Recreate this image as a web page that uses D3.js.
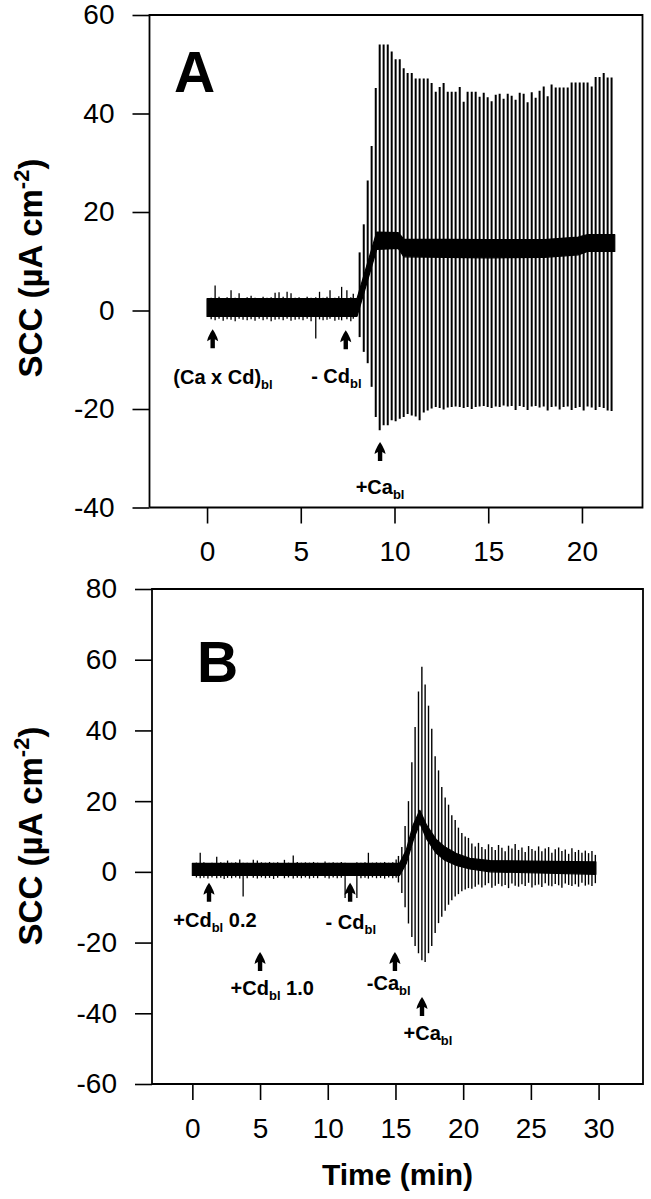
<!DOCTYPE html>
<html>
<head>
<meta charset="utf-8">
<script src="https://cdnjs.cloudflare.com/ajax/libs/d3/7.8.5/d3.min.js"></script>
<style>
  body { margin: 0; background: #fff; }
  svg { display: block; }
</style>
</head>
<body>
<svg id="svg1" width="651" height="1199"></svg>
<script>
// short-circuit current traces, panel A and panel B

var FONT = '"Liberation Sans", Arial, Helvetica, sans-serif';

// ---------- panel A data ----------
var xTicksA = [0, 5, 10, 15, 20];
var yTicksA = [-40, -20, 0, 20, 40, 60];

// pulses: [time (min), top, bottom]
var pulsesA = [
  [8.14, 11.8, -5.4], [8.36, 17.5, -8.4], [8.57, 26.4, -10.7], [8.78, 33.4, -15.5], [9.00, 45.2, -21.6],
  [9.21, 54, -24.3], [9.42, 54, -23.3], [9.64, 54, -23.3], [9.85, 52.6, -22.3], [10.06, 51, -22.5],
  [10.28, 51, -22], [10.49, 49.2, -21.6], [10.70, 48.2, -21], [10.92, 48.2, -21.3], [11.13, 47.1, -21.5],
  [11.34, 47.1, -22.3], [11.56, 47.1, -20.7], [11.77, 47.1, -20.3], [11.98, 46.2, -19.9], [12.20, 44.4, -19.6],
  [12.41, 45.4, -19.8], [12.62, 46.2, -20.1], [12.84, 44.4, -19.7], [13.05, 44.4, -19.6], [13.26, 44.4, -19.5],
  [13.48, 45.4, -19.6], [13.69, 42.4, -19.8], [13.90, 44.4, -19.6], [14.12, 44.4, -20.0], [14.33, 44.4, -19.6],
  [14.54, 43.4, -19.5], [14.76, 44.2, -19.4], [14.97, 43.3, -19.6], [15.18, 42.5, -19.8], [15.40, 43.8, -19.5],
  [15.61, 44.0, -19.6], [15.82, 43.0, -19.3], [16.04, 44.0, -19.5], [16.25, 43.6, -19.4], [16.46, 42.8, -20.2],
  [16.68, 44.2, -19.4], [16.89, 44.0, -19.6], [17.10, 42.3, -20.2], [17.32, 44.3, -19.5], [17.53, 43.2, -19.4],
  [17.74, 44.6, -19.7], [17.96, 45.5, -19.5], [18.17, 43.5, -20.3], [18.38, 45.9, -19.6], [18.60, 45.3, -19.5],
  [18.81, 45.3, -20.1], [19.02, 45.3, -19.6], [19.24, 45.3, -19.5], [19.45, 46.3, -20.2], [19.66, 46.3, -19.8],
  [19.88, 46.3, -19.6], [20.09, 46.3, -20.3], [20.30, 46.3, -19.5], [20.52, 45.5, -19.7], [20.73, 47.4, -20.2],
  [20.94, 47.4, -19.6], [21.16, 48.2, -19.8], [21.37, 47.3, -20.3], [21.58, 47.3, -20.4]
];

// small ticks riding on the baseline: [time, top, bottom]
var noiseA = [
  [0.22, 2.6, -1.8], [0.43, 5.1, -2.0], [0.64, 2.8, -1.7], [0.86, 2.5, -2.1], [1.07, 2.7, -1.8],
  [1.28, 4.1, -1.9], [1.50, 2.6, -2.2], [1.71, 3.5, -1.7], [1.92, 2.5, -1.9], [2.14, 2.7, -2.0],
  [2.35, 3.0, -1.8], [2.56, 2.6, -2.1], [2.78, 2.5, -1.7], [2.99, 2.8, -2.0], [3.20, 2.6, -1.8],
  [3.42, 2.7, -2.2], [3.63, 3.6, -1.9], [3.84, 3.7, -1.8], [4.06, 2.8, -2.0], [4.27, 3.8, -1.7],
  [4.48, 3.5, -2.1], [4.70, 2.6, -1.9], [4.91, 2.7, -1.8], [5.12, 2.5, -2.0], [5.34, 2.8, -1.7],
  [5.55, 2.6, -2.2], [5.80, 2.7, -5.7], [6.00, 3.8, -1.8], [6.19, 2.6, -2.0], [6.40, 2.8, -1.9],
  [6.56, 4.1, -1.7], [6.82, 2.6, -2.1], [7.03, 2.9, -1.9], [7.18, 4.8, -2.0], [7.46, 4.1, -1.8],
  [7.67, 2.7, -2.2], [7.80, 3.4, -1.7]
];

// running mean trace band: [time, low, high]
var bandA = [
  [0, -1.2, 2.4], [8.0, -1.2, 2.4], [9.05, 12.4, 15.9], [10.2, 12.6, 15.8], [10.5, 10.9, 14.5],
  [15.0, 10.7, 14.4], [18.0, 10.8, 14.4], [19.8, 11.3, 14.9], [20.3, 12.0, 15.4], [21.75, 12.0, 15.4]
];

// annotations: text, subscript, trailing text
var noteTextA = [['(Ca x Cd)', 'bl', ''], ['- Cd', 'bl', ''], ['+Ca', 'bl', '']];
var noteTimeA = [0.3, 7.4, 9.23];
var noteTipA = [-3.8, -4.0, -26.7];
var noteLabelA = [[0.85, -13.6], [6.9, -13.3], [9.23, -35.8]];

// ---------- panel B data ----------
var xTicksB = [0, 5, 10, 15, 20, 25, 30];
var yTicksB = [-60, -40, -20, 0, 20, 40, 60, 80];

var pulsesB = [
  [15.22, 4.5, -3], [15.47, 7, -6], [15.71, 13, -10], [15.96, 20, -14.6], [16.21, 31, -18.4],
  [16.45, 41, -21], [16.70, 51, -23], [16.95, 58, -25], [17.19, 53, -25.5], [17.44, 47, -23],
  [17.68, 40.5, -21], [17.93, 32.7, -17.3], [18.18, 28.7, -14.5], [18.42, 24, -12.7], [18.67, 21, -11],
  [18.92, 19, -9.3], [19.16, 16, -8], [19.41, 14.7, -7], [19.65, 12.5, -6.3], [19.90, 11, -5.5],
  [20.15, 10, -5], [20.39, 9.6, -4.6], [20.64, 8, -4.8], [20.89, 7.2, -4.2], [21.13, 8.2, -3.6],
  [21.38, 7.0, -4.4], [21.63, 6.4, -3.8], [21.87, 7.8, -3.2], [22.12, 7.0, -4.5], [22.37, 6.2, -3.9],
  [22.61, 7.6, -3.4], [22.86, 6.8, -4.1], [23.10, 5.8, -3.7], [23.35, 7.4, -4.6], [23.60, 6.6, -3.3],
  [23.84, 7.9, -3.9], [24.09, 6.2, -4.2], [24.34, 6.9, -3.5], [24.58, 5.6, -4.0], [24.83, 7.3, -3.1],
  [25.08, 6.5, -4.4], [25.32, 6.0, -3.8], [25.57, 7.2, -3.6], [25.81, 5.8, -4.3], [26.06, 6.6, -3.2],
  [26.31, 7.0, -3.9], [26.55, 5.4, -4.1], [26.80, 6.4, -3.4], [27.05, 6.9, -3.8], [27.29, 5.9, -4.5],
  [27.54, 6.3, -3.3], [27.79, 5.1, -3.7], [28.03, 6.7, -4.0], [28.28, 5.6, -3.5], [28.52, 6.2, -4.2],
  [28.77, 5.4, -3.1], [29.02, 6.0, -3.9], [29.26, 5.3, -3.6], [29.51, 5.9, -4.0], [29.76, 4.8, -3.2]
];

var noiseB = [
  [0.30, 2.6, -1.6], [0.58, 5.4, -1.8], [0.85, 2.7, -1.7], [1.15, 2.5, -1.9], [1.45, 2.6, -1.6],
  [1.80, 4.3, -1.8], [2.10, 2.7, -1.7], [2.35, 2.6, -2.0], [2.60, 3.2, -1.7], [2.90, 2.6, -1.8],
  [3.20, 2.7, -1.6], [3.50, 3.5, -1.9], [3.75, 2.6, -7.0], [4.05, 2.6, -1.8], [4.50, 3.4, -1.7],
  [4.80, 3.2, -1.9], [5.10, 2.7, -1.6], [5.40, 2.6, -1.8], [5.70, 2.8, -1.7], [6.00, 2.6, -2.0],
  [6.30, 2.7, -1.7], [6.80, 3.4, -1.8], [7.10, 2.6, -1.6], [7.45, 4.6, -1.9], [7.75, 2.8, -1.7],
  [8.05, 2.6, -1.8], [8.35, 2.7, -1.6], [8.65, 2.6, -1.9], [8.95, 2.8, -1.7], [9.25, 2.6, -1.8],
  [9.80, 2.9, -1.7], [10.10, 2.6, -1.9], [10.40, 2.7, -1.6], [10.70, 2.6, -1.8], [11.00, 2.8, -1.7],
  [11.28, 2.6, -7.4], [12.15, 2.7, -7.4], [12.45, 2.6, -1.8], [12.75, 2.7, -1.7], [13.00, 5.4, -1.9],
  [13.30, 2.6, -1.6], [13.60, 2.7, -1.8], [13.90, 2.6, -1.7], [14.20, 2.8, -1.9], [14.50, 2.6, -1.6],
  [14.80, 2.7, -1.8], [15.05, 3.5, -1.7]
];

var bandB = [
  [0, -1.0, 2.4], [15.3, -1.0, 2.4], [15.8, 2.4, 6.2], [16.3, 8.8, 13.2], [16.8, 13.8, 17.4],
  [17.3, 9.3, 13.2], [18.0, 5.3, 9.2], [18.6, 3.4, 7.2], [19.5, 1.8, 5.2], [20.5, 0.8, 3.8],
  [22.0, 0.0, 3.2], [29.8, -0.7, 2.8]
];

var noteTextB = [['+Cd', 'bl', ' 0.2'], ['+Cd', 'bl', ' 1.0'], ['- Cd', 'bl', ''], ['-Ca', 'bl', ''], ['+Ca', 'bl', '']];
var noteTimeB = [1.23, 5.0, 11.65, 14.96, 16.96];
var noteTipB = [-3.1, -22.7, -3.1, -22.7, -35.4];
var noteLabelB = [[1.67, -13.6], [5.9, -32.9], [11.7, -14.2], [14.5, -31.4], [17.4, -45.6]];


// selecting svg canvas
var svg1 = d3.select('#svg1');

svg1.append('rect').attr('width', 651).attr('height', 1199).attr('fill', '#fff');

// frame of each panel (pixels)
var frameA = {left: 149.5, right: 642.5, top: 15, bottom: 507.5};
var frameB = {left: 152, right: 643, top: 589, bottom: 1084};

var xScaleA = d3.scaleLinear().domain([-3.07, 23.23]).range([frameA.left, frameA.right]);
var yScaleA = d3.scaleLinear().domain([-40, 60]).range([frameA.bottom, frameA.top]);
var xScaleB = d3.scaleLinear().domain([-2.98, 33.28]).range([frameB.left, frameB.right]);
var yScaleB = d3.scaleLinear().domain([-60, 80]).range([frameB.bottom, frameB.top]);

drawPanel({
  frame: frameA, x: xScaleA, y: yScaleA, xTicks: xTicksA, yTicks: yTicksA,
  pulses: pulsesA, noise: noiseA, band: bandA, pulseWidth: 2,
  noteText: noteTextA, noteTime: noteTimeA, noteTip: noteTipA, noteLabel: noteLabelA,
  letter: 'A', letterPos: [174, 92], titleCenter: 268
});

drawPanel({
  frame: frameB, x: xScaleB, y: yScaleB, xTicks: xTicksB, yTicks: yTicksB,
  pulses: pulsesB, noise: noiseB, band: bandB, pulseWidth: 1.4,
  noteText: noteTextB, noteTime: noteTimeB, noteTip: noteTipB, noteLabel: noteLabelB,
  letter: 'B', letterPos: [197, 682], titleCenter: 836
});

// x axis title only under panel B
svg1.append('text')
  .attr('x', (frameB.left + frameB.right) / 2)
  .attr('y', 1185)
  .attr('text-anchor', 'middle')
  .attr('font-family', FONT)
  .attr('font-weight', 'bold')
  .attr('font-size', 30)
  .text('Time (min)');


function drawPanel(p) {
  var x = p.x, y = p.y, f = p.frame;

  // stimulation pulses
  svg1.append('g')
    .selectAll('line')
    .data(p.pulses)
    .enter()
    .append('line')
    .attr('x1', function(d) { return x(d[0]); })
    .attr('x2', function(d) { return x(d[0]); })
    .attr('y1', function(d) { return y(d[1]); })
    .attr('y2', function(d) { return y(d[2]); })
    .attr('stroke', '#000')
    .attr('stroke-width', p.pulseWidth);

  // baseline ticks
  svg1.append('g')
    .selectAll('line')
    .data(p.noise)
    .enter()
    .append('line')
    .attr('x1', function(d) { return x(d[0]); })
    .attr('x2', function(d) { return x(d[0]); })
    .attr('y1', function(d) { return y(d[1]); })
    .attr('y2', function(d) { return y(d[2]); })
    .attr('stroke', '#000')
    .attr('stroke-width', 1.3);

  // thick mean trace
  var area = d3.area()
    .x(function(d) { return x(d[0]); })
    .y0(function(d) { return y(d[1]); })
    .y1(function(d) { return y(d[2]); });

  svg1.append('path')
    .datum(p.band)
    .attr('d', area)
    .attr('fill', '#000')
    .attr('stroke', '#000')
    .attr('stroke-width', 1.2)
    .attr('stroke-linejoin', 'round');

  // frame
  svg1.append('path')
    .attr('d', 'M' + f.left + ',' + f.bottom + 'V' + f.top + 'H' + f.right + 'V' + f.bottom + 'H' + f.left)
    .attr('fill', 'none')
    .attr('stroke', '#000')
    .attr('stroke-width', 1.8);

  // plain hyphen for negative labels, like the original
  var fmt = function(d) { return String(d); };

  // y axis
  var yAxis = svg1.append('g')
    .attr('transform', 'translate(' + f.left + ',0)')
    .call(d3.axisLeft(y).tickValues(p.yTicks).tickFormat(fmt).tickSize(17).tickPadding(18).tickSizeOuter(0));
  yAxis.select('.domain').remove();
  yAxis.attr('font-family', FONT).attr('font-size', 28);
  yAxis.selectAll('line').attr('stroke', '#000').attr('stroke-width', 1.6);
  yAxis.selectAll('text').attr('fill', '#000');

  // x axis
  var xAxis = svg1.append('g')
    .attr('transform', 'translate(0,' + f.bottom + ')')
    .call(d3.axisBottom(x).tickValues(p.xTicks).tickFormat(fmt).tickSize(16).tickPadding(18).tickSizeOuter(0));
  xAxis.select('.domain').remove();
  xAxis.attr('font-family', FONT).attr('font-size', 28);
  xAxis.selectAll('line').attr('stroke', '#000').attr('stroke-width', 1.6);
  xAxis.selectAll('text').attr('fill', '#000');

  // panel letter
  svg1.append('text')
    .attr('x', p.letterPos[0])
    .attr('y', p.letterPos[1])
    .attr('font-family', FONT)
    .attr('font-weight', 'bold')
    .attr('font-size', 57)
    .text(p.letter);

  // y axis title
  var title = svg1.append('text')
    .attr('transform', 'translate(42,' + p.titleCenter + ') rotate(-90)')
    .attr('text-anchor', 'middle')
    .attr('font-family', FONT)
    .attr('font-weight', 'bold')
    .attr('font-size', 33);
  title.append('tspan').text('SCC (\u00B5A cm');
  title.append('tspan').attr('font-size', 22).attr('dy', -13).text('-2');
  title.append('tspan').attr('dy', 13).text(')');

  // arrows + labels
  p.noteTime.forEach(function(t, i) {
    var ax = x(t), ay = y(p.noteTip[i]);
    svg1.append('path')
      .attr('transform', 'translate(' + ax + ',' + ay + ')')
      .attr('d', 'M0,0 C2,3 5,8 5.5,12 L2.2,10 L2.2,19 L-2.2,19 L-2.2,10 L-5.5,12 C-5,8 -2,3 0,0 Z')
      .attr('fill', '#000');

    var lab = svg1.append('text')
      .attr('x', x(p.noteLabel[i][0]))
      .attr('y', y(p.noteLabel[i][1]) + 7)
      .attr('text-anchor', 'middle')
      .attr('font-family', FONT)
      .attr('font-weight', 'bold')
      .attr('font-size', 20);
    lab.append('tspan').text(p.noteText[i][0]);
    lab.append('tspan').attr('font-size', 13).attr('dy', 5).text(p.noteText[i][1]);
    if (p.noteText[i][2] !== '') {
      lab.append('tspan').attr('dy', -5).text(p.noteText[i][2]);
    }
  });
}
</script>
</body>
</html>
